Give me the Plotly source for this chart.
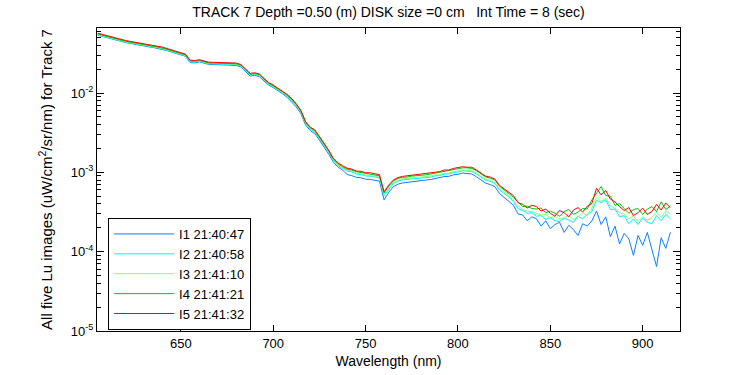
import numpy as np
import plotly.graph_objects as go

# Wavelength grid (nm)
wavelength = np.arange(605.0, 915.01, 2.5)

# Lu values (uW/cm^2/sr/nm)
lu_i5 = [5.68e-2, 5.47e-2, 5.27e-2, 5.08e-2, 4.90e-2, 4.75e-2, 4.60e-2, 4.48e-2, 4.36e-2, 4.25e-2,
         4.15e-2, 4.06e-2, 3.97e-2, 3.88e-2, 3.79e-2, 3.63e-2, 3.48e-2, 3.35e-2, 3.22e-2, 3.09e-2,
         2.60e-2, 2.57e-2, 2.63e-2, 2.53e-2, 2.45e-2, 2.44e-2, 2.43e-2, 2.42e-2, 2.41e-2, 2.40e-2,
         2.39e-2, 2.29e-2, 2.04e-2, 1.77e-2, 1.80e-2, 1.74e-2, 1.53e-2, 1.36e-2, 1.26e-2, 1.16e-2,
         1.06e-2, 9.62e-3, 8.51e-3, 7.31e-3, 6.03e-3, 4.37e-3, 3.72e-3, 3.43e-3, 2.85e-3, 2.36e-3,
         1.91e-3, 1.51e-3, 1.32e-3, 1.21e-3, 1.13e-3, 1.10e-3, 1.04e-3, 1.03e-3, 9.89e-4, 9.89e-4,
         9.51e-4, 9.33e-4, 5.69e-4, 6.90e-4, 8.00e-4, 8.60e-4, 8.90e-4, 9.05e-4, 9.15e-4, 9.35e-4,
         9.45e-4, 9.66e-4, 9.72e-4, 1.01e-3, 1.02e-3, 1.07e-3, 1.07e-3, 1.12e-3, 1.14e-3, 1.18e-3,
         1.16e-3, 1.16e-3, 1.07e-3, 9.77e-4, 8.95e-4, 8.71e-4, 8.22e-4, 6.84e-4, 6.24e-4, 5.65e-4,
         5.10e-4, 4.15e-4, 3.95e-4, 3.55e-4, 3.85e-4, 3.70e-4, 3.25e-4, 3.45e-4, 3.05e-4, 2.80e-4,
         3.30e-4, 3.10e-4, 2.75e-4, 3.35e-4, 3.60e-4, 3.15e-4, 3.75e-4, 4.05e-4, 6.30e-4, 5.20e-4,
         5.90e-4, 4.60e-4, 4.25e-4, 3.70e-4, 3.30e-4, 3.60e-4, 2.85e-4, 3.10e-4, 3.55e-4, 2.95e-4,
         3.20e-4, 3.95e-4, 3.35e-4, 4.10e-4, 3.60e-4]

lu_i4 = [5.57e-2, 5.36e-2, 5.16e-2, 4.98e-2, 4.80e-2, 4.66e-2, 4.51e-2, 4.39e-2, 4.27e-2, 4.17e-2,
         4.07e-2, 3.98e-2, 3.89e-2, 3.80e-2, 3.71e-2, 3.56e-2, 3.41e-2, 3.28e-2, 3.16e-2, 3.03e-2,
         2.55e-2, 2.52e-2, 2.58e-2, 2.48e-2, 2.40e-2, 2.39e-2, 2.38e-2, 2.37e-2, 2.36e-2, 2.35e-2,
         2.34e-2, 2.24e-2, 2.00e-2, 1.73e-2, 1.76e-2, 1.71e-2, 1.50e-2, 1.33e-2, 1.23e-2, 1.14e-2,
         1.04e-2, 9.43e-3, 8.34e-3, 7.16e-3, 5.91e-3, 4.28e-3, 3.65e-3, 3.36e-3, 2.79e-3, 2.31e-3,
         1.87e-3, 1.48e-3, 1.29e-3, 1.18e-3, 1.10e-3, 1.07e-3, 1.02e-3, 9.95e-4, 9.70e-4, 9.55e-4,
         9.30e-4, 9.05e-4, 5.50e-4, 6.68e-4, 7.78e-4, 8.38e-4, 8.68e-4, 8.72e-4, 8.96e-4, 9.02e-4,
         9.27e-4, 9.30e-4, 9.52e-4, 9.75e-4, 1.00e-3, 1.03e-3, 1.05e-3, 1.08e-3, 1.11e-3, 1.14e-3,
         1.14e-3, 1.12e-3, 1.05e-3, 9.50e-4, 8.75e-4, 8.45e-4, 8.05e-4, 6.70e-4, 6.05e-4, 5.50e-4,
         4.85e-4, 4.25e-4, 3.70e-4, 3.75e-4, 3.50e-4, 3.45e-4, 3.55e-4, 3.10e-4, 3.25e-4, 3.05e-4,
         2.80e-4, 3.20e-4, 3.40e-4, 2.95e-4, 3.15e-4, 3.50e-4, 3.45e-4, 4.50e-4, 5.40e-4, 6.60e-4,
         5.10e-4, 5.00e-4, 3.85e-4, 4.05e-4, 3.50e-4, 3.05e-4, 3.40e-4, 3.50e-4, 2.95e-4, 3.45e-4,
         3.70e-4, 3.20e-4, 4.25e-4, 3.40e-4, 3.75e-4]

lu_i3 = [5.49e-2, 5.28e-2, 5.09e-2, 4.91e-2, 4.73e-2, 4.59e-2, 4.44e-2, 4.33e-2, 4.21e-2, 4.11e-2,
         4.01e-2, 3.92e-2, 3.83e-2, 3.75e-2, 3.66e-2, 3.51e-2, 3.36e-2, 3.24e-2, 3.11e-2, 2.98e-2,
         2.51e-2, 2.48e-2, 2.54e-2, 2.44e-2, 2.37e-2, 2.36e-2, 2.35e-2, 2.34e-2, 2.33e-2, 2.32e-2,
         2.31e-2, 2.21e-2, 1.97e-2, 1.71e-2, 1.74e-2, 1.68e-2, 1.48e-2, 1.31e-2, 1.21e-2, 1.12e-2,
         1.02e-2, 9.27e-3, 8.20e-3, 7.04e-3, 5.80e-3, 4.20e-3, 3.58e-3, 3.30e-3, 2.74e-3, 2.26e-3,
         1.83e-3, 1.45e-3, 1.26e-3, 1.15e-3, 1.07e-3, 1.04e-3, 9.75e-4, 9.60e-4, 9.25e-4, 9.15e-4,
         8.85e-4, 8.70e-4, 5.25e-4, 6.37e-4, 7.43e-4, 7.96e-4, 8.32e-4, 8.36e-4, 8.47e-4, 8.66e-4,
         8.70e-4, 8.90e-4, 8.95e-4, 9.30e-4, 9.35e-4, 9.75e-4, 9.80e-4, 1.02e-3, 1.04e-3, 1.07e-3,
         1.06e-3, 1.05e-3, 9.80e-4, 8.95e-4, 8.15e-4, 7.95e-4, 7.45e-4, 6.20e-4, 5.65e-4, 5.10e-4,
         4.40e-4, 3.80e-4, 3.40e-4, 3.25e-4, 3.20e-4, 3.05e-4, 2.90e-4, 2.95e-4, 2.65e-4, 2.80e-4,
         2.55e-4, 2.70e-4, 2.85e-4, 2.55e-4, 2.75e-4, 3.05e-4, 2.90e-4, 3.55e-4, 4.85e-4, 4.30e-4,
         4.75e-4, 3.80e-4, 3.55e-4, 3.10e-4, 2.95e-4, 2.60e-4, 2.85e-4, 2.40e-4, 2.75e-4, 2.50e-4,
         2.70e-4, 3.15e-4, 2.70e-4, 3.25e-4, 3.00e-4]

lu_i2 = [5.42e-2, 5.22e-2, 5.03e-2, 4.85e-2, 4.68e-2, 4.54e-2, 4.39e-2, 4.28e-2, 4.16e-2, 4.06e-2,
         3.96e-2, 3.88e-2, 3.79e-2, 3.70e-2, 3.62e-2, 3.47e-2, 3.32e-2, 3.20e-2, 3.07e-2, 2.95e-2,
         2.47e-2, 2.45e-2, 2.51e-2, 2.41e-2, 2.34e-2, 2.33e-2, 2.32e-2, 2.31e-2, 2.30e-2, 2.29e-2,
         2.28e-2, 2.18e-2, 1.94e-2, 1.68e-2, 1.71e-2, 1.65e-2, 1.45e-2, 1.29e-2, 1.19e-2, 1.10e-2,
         1.00e-2, 9.10e-3, 8.05e-3, 6.91e-3, 5.70e-3, 4.12e-3, 3.51e-3, 3.23e-3, 2.68e-3, 2.21e-3,
         1.79e-3, 1.42e-3, 1.23e-3, 1.12e-3, 1.04e-3, 1.01e-3, 9.50e-4, 9.40e-4, 9.00e-4, 8.95e-4,
         8.65e-4, 8.50e-4, 5.10e-4, 6.16e-4, 7.22e-4, 7.76e-4, 8.05e-4, 8.16e-4, 8.26e-4, 8.41e-4,
         8.45e-4, 8.65e-4, 8.70e-4, 9.05e-4, 9.10e-4, 9.50e-4, 9.55e-4, 9.95e-4, 1.01e-3, 1.05e-3,
         1.04e-3, 1.03e-3, 9.55e-4, 8.70e-4, 7.95e-4, 7.70e-4, 7.25e-4, 6.00e-4, 5.45e-4, 4.90e-4,
         4.30e-4, 3.50e-4, 3.30e-4, 3.05e-4, 3.10e-4, 2.80e-4, 2.85e-4, 2.55e-4, 2.70e-4, 2.45e-4,
         2.40e-4, 2.65e-4, 2.50e-4, 2.35e-4, 2.80e-4, 2.60e-4, 2.95e-4, 3.20e-4, 4.45e-4, 4.15e-4,
         4.50e-4, 3.40e-4, 3.45e-4, 2.75e-4, 2.85e-4, 2.25e-4, 2.60e-4, 2.20e-4, 2.65e-4, 2.35e-4,
         2.25e-4, 2.85e-4, 2.45e-4, 2.95e-4, 2.60e-4]

lu_i1 = [5.36e-2, 5.16e-2, 4.97e-2, 4.80e-2, 4.63e-2, 4.48e-2, 4.34e-2, 4.23e-2, 4.11e-2, 4.01e-2,
         3.92e-2, 3.83e-2, 3.75e-2, 3.66e-2, 3.58e-2, 3.43e-2, 3.28e-2, 3.16e-2, 3.04e-2, 2.91e-2,
         2.42e-2, 2.40e-2, 2.47e-2, 2.37e-2, 2.30e-2, 2.29e-2, 2.28e-2, 2.27e-2, 2.26e-2, 2.25e-2,
         2.23e-2, 2.13e-2, 1.89e-2, 1.64e-2, 1.67e-2, 1.61e-2, 1.42e-2, 1.26e-2, 1.17e-2, 1.08e-2,
         9.80e-3, 8.85e-3, 7.80e-3, 6.68e-3, 5.48e-3, 3.95e-3, 3.36e-3, 3.08e-3, 2.55e-3, 2.10e-3,
         1.70e-3, 1.35e-3, 1.17e-3, 1.07e-3, 9.40e-4, 9.10e-4, 8.65e-4, 8.55e-4, 8.20e-4, 8.15e-4,
         7.90e-4, 7.75e-4, 4.50e-4, 5.60e-4, 6.60e-4, 7.10e-4, 7.35e-4, 7.50e-4, 7.60e-4, 7.75e-4,
         7.85e-4, 8.00e-4, 8.10e-4, 8.35e-4, 8.50e-4, 8.85e-4, 8.90e-4, 9.30e-4, 9.45e-4, 9.80e-4,
         9.65e-4, 9.55e-4, 8.80e-4, 8.00e-4, 7.30e-4, 7.00e-4, 6.60e-4, 5.40e-4, 4.85e-4, 4.30e-4,
         3.85e-4, 3.00e-4, 2.90e-4, 2.45e-4, 2.75e-4, 2.60e-4, 2.10e-4, 2.45e-4, 1.95e-4, 2.20e-4,
         2.35e-4, 1.75e-4, 2.15e-4, 1.90e-4, 1.60e-4, 2.25e-4, 2.10e-4, 2.45e-4, 3.25e-4, 2.20e-4,
         2.75e-4, 1.55e-4, 2.10e-4, 1.25e-4, 1.70e-4, 1.45e-4, 9.00e-5, 1.60e-4, 1.20e-4, 1.75e-4,
         1.05e-4, 6.50e-5, 1.50e-4, 1.10e-4, 1.75e-4]

series_names = ["I1 21:40:47", "I2 21:40:58", "I3 21:41:10", "I4 21:41:21", "I5 21:41:32"]
series_colors = ["#0a80ff", "#00f0ff", "#80ff80", "#00c800", "#ff0000"]
series_values = [lu_i1, lu_i2, lu_i3, lu_i4, lu_i5]

x_ticks = [650, 700, 750, 800, 850, 900]
y_tick_vals = [1e-5, 1e-4, 1e-3, 1e-2]
y_tick_text = ["10<sup>-5</sup>", "10<sup>-4</sup>", "10<sup>-3</sup>", "10<sup>-2</sup>"]
y_minor_vals = [m * 10.0 ** e for e in range(-5, -1) for m in range(2, 10)]

FONT = "Liberation Sans, Arial, sans-serif"

fig = go.Figure()
for name, color, vals in zip(series_names, series_colors, series_values):
    fig.add_trace(go.Scatter(x=wavelength, y=vals, mode="lines", name=name,
                             line=dict(color=color, width=1)))

fig.update_layout(
    width=750, height=375,
    margin=dict(l=97, r=70, t=28, b=44, autoexpand=False),
    paper_bgcolor="white", plot_bgcolor="white",
    font=dict(family=FONT, size=13, color="black"),
    title=dict(text="TRACK 7 Depth =0.50 (m) DISK size =0 cm\u00a0\u00a0\u00a0Int Time = 8 (sec)",
               x=(97 + 680) / 2 / 750, xanchor="center", y=1 - 12 / 375, yanchor="middle",
               font=dict(family=FONT, size=14), automargin=False),
    showlegend=True,
    legend=dict(x=0.019, y=0.373, xanchor="left", yanchor="top",
                bgcolor="white", bordercolor="black", borderwidth=1, itemwidth=60,
                font=dict(family=FONT, size=13), tracegroupgap=0, traceorder="normal"),
)
fig.update_xaxes(
    range=[604.6, 920.2], tickvals=x_ticks, ticks="inside", ticklen=6, tickwidth=1,
    tickcolor="black", showline=True, linecolor="black", linewidth=1, mirror="allticks",
    showgrid=False, zeroline=False, tickfont=dict(family=FONT, size=13), automargin=False,
    title=dict(text="Wavelength (nm)", font=dict(family=FONT, size=14), standoff=6),
)
fig.update_yaxes(
    type="log", range=[-5, -1.18], tickvals=y_tick_vals, ticktext=y_tick_text,
    ticks="inside", ticklen=7, tickwidth=1, tickcolor="black",
    minor=dict(tickvals=y_minor_vals, ticks="inside", ticklen=4, tickcolor="black", showgrid=False),
    showline=True, linecolor="black", linewidth=1, mirror="allticks",
    showgrid=False, zeroline=False, tickfont=dict(family=FONT, size=13), automargin=False,
    title=dict(text="All five Lu images (uW/cm<sup>2</sup>/sr/nm) for Track 7",
               font=dict(family=FONT, size=15), standoff=14),
)

fig.write_html("out.html", config={"displayModeBar": False},
               post_script="document.body.style.margin='0';document.body.style.overflow='hidden';")
